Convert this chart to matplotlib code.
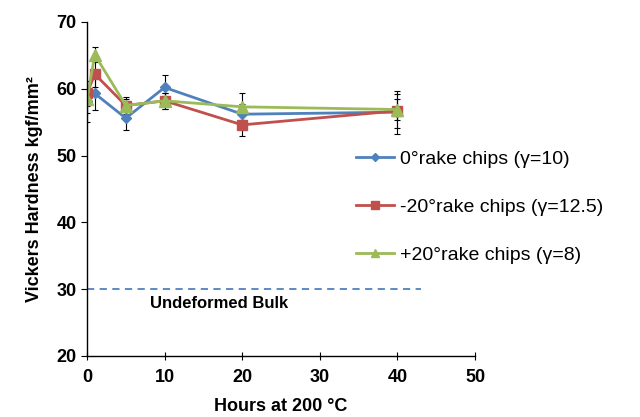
import matplotlib.pyplot as plt
import numpy as np

plt.rcParams["font.family"] = ["Liberation Sans", "DejaVu Sans"]
plt.rcParams["font.size"] = 12
plt.rcParams["axes.linewidth"] = 1.0

hours = [0, 1, 5, 10, 20, 40]

hv_0 = [58.1, 59.3, 55.6, 60.2, 56.2, 56.5]
err_0 = [3.0, 2.5, 1.8, 1.8, 1.5, 3.2]

hv_m20 = [59.3, 62.2, 57.5, 58.2, 54.6, 56.7]
err_m20 = [1.8, 2.0, 1.0, 1.2, 1.6, 2.5]

hv_p20 = [58.4, 65.1, 57.5, 58.2, 57.3, 56.9]
err_p20 = [2.0, 1.1, 1.2, 1.2, 2.0, 1.5]

bulk_hv = 30
bulk_x = [0, 43]

fig = plt.figure(figsize=(6.4, 4.17), dpi=100)
ax = fig.add_axes([87 / 640, 1 - 356 / 417, 388 / 640, 334 / 417])

series = [
    (hv_0, err_0, "#4F81BD", "D", 5, "0°rake chips (γ=10)"),
    (hv_m20, err_m20, "#C0504D", "s", 6.5, "-20°rake chips (γ=12.5)"),
    (hv_p20, err_p20, "#9BBB59", "^", 8, "+20°rake chips (γ=8)"),
]

handles = []
for hv, err, color, marker, ms, label in series:
    ax.errorbar(hours, hv, yerr=err, fmt="none", ecolor="black",
                elinewidth=0.8, capsize=2.5, capthick=0.8, zorder=1)
    (h,) = ax.plot(hours, hv, color=color, marker=marker, markersize=ms,
                   linewidth=2, label=label, zorder=2)
    handles.append(h)

ax.plot(bulk_x, [bulk_hv, bulk_hv], color="#4F81BD", linestyle=(0, (4, 3)),
        linewidth=1.3)
ax.text(17, 27.8, "Undeformed Bulk", ha="center", va="center",
        fontsize=12, fontweight="bold")

ax.set_xlim(0, 50)
ax.set_ylim(20, 70)
ax.set_xticks(np.arange(0, 51, 10))
ax.set_yticks(np.arange(20, 71, 10))
ax.spines["top"].set_visible(False)
ax.spines["right"].set_visible(False)
ax.tick_params(axis="x", direction="inout", length=6, labelsize=13, pad=6)
ax.tick_params(axis="y", direction="out", length=4, labelsize=13)
for lbl in ax.get_xticklabels() + ax.get_yticklabels():
    lbl.set_fontweight("bold")

ax.set_xlabel("Hours at 200 °C", fontweight="bold", fontsize=13, labelpad=9)
ax.set_ylabel("Vickers Hardness kgf/mm²", fontweight="bold", fontsize=13,
              labelpad=10)

fig.legend(handles=handles, loc="upper left", bbox_to_anchor=(338 / 640, 1 - 133 / 417),
           frameon=False, fontsize=14, labelspacing=1.55, handlelength=2.0,
           handletextpad=0.3, markerscale=0.8)

fig.savefig("out.png", dpi=100)
